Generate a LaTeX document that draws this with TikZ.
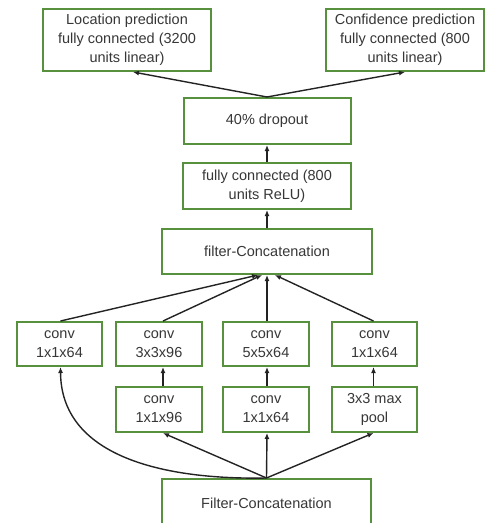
\documentclass[tikz,border=0pt]{standalone}
\usepackage{fontspec}
\setmainfont{Liberation Sans}
\usetikzlibrary{arrows.meta,calc}
\definecolor{boxgreen}{RGB}{88,145,62}
\definecolor{txtgray}{RGB}{55,55,55}
\definecolor{arrgray}{RGB}{35,35,35}
\begin{document}
\begin{tikzpicture}[x=1pt,y=-1pt,
  box/.style={draw=boxgreen,line width=2pt,fill=white,rectangle,inner sep=0pt,
    text=txtgray,align=center,font=\fontsize{14.5}{19}\selectfont},
  arr/.style={draw=arrgray,line width=1.4pt,-{Latex[length=6pt,width=5pt]}}]
\useasboundingbox (0,0) rectangle (485,523);
\node[box,minimum width=168pt,minimum height=62pt] (loc) at (127,40) {Location prediction\\fully connected (3200\\units linear)};
\node[box,minimum width=158pt,minimum height=62pt] (conf) at (405,40) {Confidence prediction\\fully connected (800\\units linear)};
\node[box,minimum width=167pt,minimum height=46pt] (drop) at (267,121) {40\% dropout};
\node[box,minimum width=168pt,minimum height=46pt] (fc) at (267,186) {fully connected (800\\units ReLU)};
\node[box,minimum width=210pt,minimum height=45pt] (fcat) at (267,251.5) {filter-Concatenation};
\node[box,minimum width=85pt,minimum height=44pt] (c1) at (59.5,344) {conv\\1x1x64};
\node[box,minimum width=86pt,minimum height=44pt] (c2) at (159,344) {conv\\3x3x96};
\node[box,minimum width=86pt,minimum height=44pt] (c3) at (266,344) {conv\\5x5x64};
\node[box,minimum width=85pt,minimum height=44pt] (c4) at (374.5,344) {conv\\1x1x64};
\node[box,minimum width=86pt,minimum height=45pt] (r2) at (159,409.5) {conv\\1x1x96};
\node[box,minimum width=86pt,minimum height=45pt] (r3) at (266,409.5) {conv\\1x1x64};
\node[box,minimum width=85pt,minimum height=45pt] (r4) at (374.5,409.5) {3x3 max\\pool};
\node[box,minimum width=209pt,minimum height=48pt] (bcat) at (266.5,503) {Filter-Concatenation};
% top
\draw[arr] (drop.north) -- ([xshift=6pt]loc.south);
\draw[arr] (drop.north) -- (conf.south);
\draw[arr] (fc.north) -- (drop.south);
\draw[arr] (fcat.north) -- (fc.south);
% row1 to fcat
\draw[arr] ([xshift=1pt]c1.north) -- ([xshift=-9pt]fcat.south);
\draw[arr] ([xshift=4pt]c2.north) -- ([xshift=-5pt]fcat.south);
\draw[arr] ([xshift=1pt]c3.north) -- (fcat.south);
\draw[arr] ([xshift=-1pt]c4.north) -- ([xshift=8pt]fcat.south);
% row2 to row1
\draw[arr] ([xshift=4pt]r2.north) -- ([xshift=4pt]c2.south);
\draw[arr] ([xshift=1pt]r3.north) -- ([xshift=1pt]c3.south);
\draw[arr] ([xshift=-1pt]r4.north) -- ([xshift=-1pt]c4.south);
% bottom
\draw[arr] (bcat.north) -- ([xshift=4pt]r2.south);
\draw[arr] (bcat.north) -- ([xshift=1pt]r3.south);
\draw[arr] (bcat.north) -- ([xshift=-1pt]r4.south);
\draw[arr] (bcat.north) .. controls (160,480) and (61,455) .. ([xshift=1pt]c1.south);
\end{tikzpicture}
\end{document}
